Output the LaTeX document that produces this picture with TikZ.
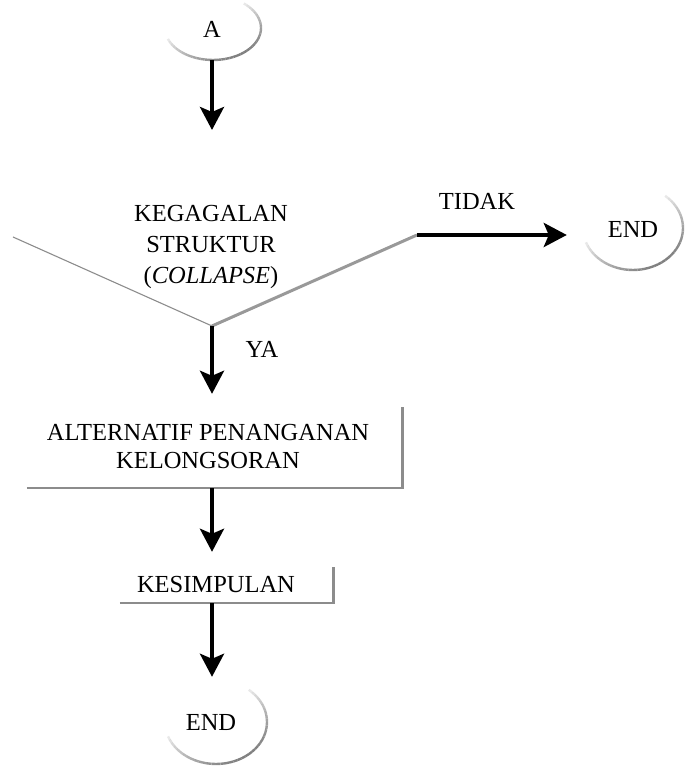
\documentclass[tikz,border=0pt]{standalone}
\usepackage{fontspec}
\setmainfont{Liberation Serif}
\usetikzlibrary{arrows.meta,shapes.geometric,calc}
\tikzset{
  arr/.style={line width=4pt, -{Stealth[length=23pt,width=24pt,inset=5pt]}},
  lbl/.style={font=\fontsize{24.5}{31}\selectfont, inner sep=0pt, align=center},
  oval/.style={ellipse, draw=none, inner sep=0pt},
  frame/.style={rectangle, draw=none, inner sep=0pt},
  shadowline/.style={line width=2.6pt, draw=black!45},
}
\newcommand\ovalshadow[3]{%
  \foreach \i in {0,...,41} {
    \pgfmathsetmacro\aa{50-5*\i}
    \pgfmathsetmacro\bb{\aa-5}
    \pgfmathsetmacro\op{0.15+0.85*sin(180*(\i+0.5)/42)}
    \draw[line width=2.4pt, draw=black!50, draw opacity=\op]
      ($(#1)+(\aa:#2 and #3)$) arc[start angle=\aa, end angle=\bb, x radius=#2, y radius=#3];
  }%
}
\begin{document}
\begin{tikzpicture}[x=1pt,y=1pt]
\useasboundingbox (0,0) rectangle (685,769);

% start terminal A
\coordinate (Ac) at (213,741);
\ovalshadow{Ac}{48pt}{32pt}
\node[oval, minimum width=96pt, minimum height=64pt] (A) at (Ac) {};
\node[lbl] (At) at (212,740) {A};

% arrow to decision
\coordinate (a1end) at (212,639);
\draw[arr] (A.south -| a1end) -- (a1end);

% decision
\coordinate (dl) at (13,532);
\coordinate (dv) at (212,443);
\coordinate (dr) at (417,534);
\draw[line width=1.1pt, draw=black!45] (dl) -- (dv);
\draw[line width=3pt, draw=black!40] (dv) -- (dr);
\node[lbl] (dec) at (211,522) {KEGAGALAN\\STRUKTUR\\(\textit{COLLAPSE})};

% TIDAK branch
\coordinate (ERc) at (633,541);
\ovalshadow{ERc}{50pt}{42pt}
\node[oval, minimum width=100pt, minimum height=84pt] (endR) at (ERc) {};
\node[lbl] (endRt) at (633,539) {END};
\draw[arr, shorten >=16pt] (dr) -- (dr -| endR.west);
\node[lbl] (tidak) at (477,568) {TIDAK};

% YA branch
\node[frame, minimum width=375pt, minimum height=94pt] (alt) at (214.5,328) {};
\draw[arr] (dv) -- (alt.north -| dv);
\node[lbl] (ya) at (262,420) {YA};
\draw[shadowline] (alt.south west) -- (alt.south east) -- ([yshift=-13pt]alt.north east);
\node[lbl, font=\fontsize{24.5}{27.5}\selectfont] (altt) at (208,322.5) {ALTERNATIF PENANGANAN\\KELONGSORAN};

% KESIMPULAN
\node[frame, minimum width=213pt, minimum height=51pt] (kes) at (226.5,191.5) {};
\draw[arr] (alt.south -| dv) -- (kes.north -| dv);
\draw[shadowline] (kes.south west) -- (kes.south east) -- ([yshift=-15pt]kes.north east);
\node[lbl] (kest) at (216,184) {KESIMPULAN};

% end terminal
\coordinate (EBc) at (216,47);
\ovalshadow{EBc}{51pt}{42pt}
\node[oval, minimum width=102pt, minimum height=90pt] (endB) at (EBc) {};
\node[lbl] (endBt) at (211,46) {END};
\draw[arr] (kes.south -| dv) -- (endB.north -| dv);
\end{tikzpicture}
\end{document}
